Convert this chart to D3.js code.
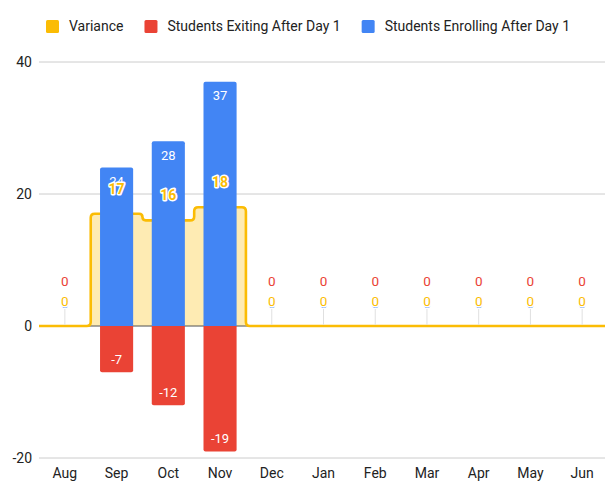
<!DOCTYPE html>
<html>
<head>
<meta charset="utf-8">
<script src="https://cdn.jsdelivr.net/npm/d3@7"></script>
<style>
  html, body { margin: 0; padding: 0; background: #fff; }
  svg { display: block; font-family: Roboto, Arial, sans-serif; }
</style>
</head>
<body>
<svg id="chart" width="605" height="482"></svg>
<script>
const months = ["Aug","Sep","Oct","Nov","Dec","Jan","Feb","Mar","Apr","May","Jun"];
const variance = [0,17,16,18,0,0,0,0,0,0,0];
const exiting = [0,-7,-12,-19,0,0,0,0,0,0,0];
const enrolling = [0,24,28,37,0,0,0,0,0,0,0];
const yTicks = [-20,0,20,40];
const seriesNames = ["Variance","Students Exiting After Day 1","Students Enrolling After Day 1"];
const seriesColors = ["#fbbc04","#ea4335","#4285f4"];

const W = 605, H = 482;
const svg = d3.select("#chart");

const x = d3.scaleBand().domain(months).range([39, 608]).paddingInner(0).paddingOuter(0);
const y = d3.scaleLinear().domain([-20, 40]).range([458, 62]);
const barW = x.bandwidth() * 0.64;
const cx = m => x(m) + x.bandwidth() / 2;

// gridlines
svg.append("g").selectAll("line").data(yTicks).join("line")
  .attr("x1", 39).attr("x2", W)
  .attr("y1", d => y(d)).attr("y2", d => y(d))
  .attr("stroke", "#cccccc").attr("stroke-width", 1);

// y axis labels
svg.append("g").selectAll("text").data(yTicks).join("text")
  .attr("x", 32).attr("y", d => y(d)).attr("dy", "0.35em")
  .attr("text-anchor", "end").attr("font-size", 14).attr("fill", "#222")
  .text(d => d);

// x axis labels
svg.append("g").selectAll("text").data(months).join("text")
  .attr("x", d => cx(d)).attr("y", 473).attr("dy", "0.35em")
  .attr("text-anchor", "middle").attr("font-size", 14).attr("fill", "#222")
  .text(d => d);

// stepped variance path with rounded corners
function stepPoints() {
  const pts = [];
  months.forEach((m, i) => {
    const yy = y(variance[i]);
    pts.push([x(m), yy]);
    pts.push([x(m) + x.bandwidth(), yy]);
  });
  const clean = [];
  pts.forEach(p => {
    const last = clean[clean.length - 1];
    if (last && Math.abs(last[0] - p[0]) < 1e-6 && Math.abs(last[1] - p[1]) < 1e-6) return;
    clean.push(p);
  });
  const out = [];
  clean.forEach(p => {
    if (out.length >= 2) {
      const a = out[out.length - 2], b = out[out.length - 1];
      const c1 = (b[0]-a[0])*(p[1]-b[1]) - (b[1]-a[1])*(p[0]-b[0]);
      if (Math.abs(c1) < 1e-6) { out[out.length - 1] = p; return; }
    }
    out.push(p);
  });
  return out;
}
function roundedPath(pts, r) {
  const p = d3.path();
  p.moveTo(pts[0][0], pts[0][1]);
  for (let i = 1; i < pts.length - 1; i++) {
    const a = pts[i-1], b = pts[i], c = pts[i+1];
    const l1 = Math.hypot(b[0]-a[0], b[1]-a[1]);
    const l2 = Math.hypot(c[0]-b[0], c[1]-b[1]);
    const rr = Math.min(r, l1/2, l2/2);
    const p1 = [b[0] - (b[0]-a[0])/l1*rr, b[1] - (b[1]-a[1])/l1*rr];
    const p2 = [b[0] + (c[0]-b[0])/l2*rr, b[1] + (c[1]-b[1])/l2*rr];
    p.lineTo(p1[0], p1[1]);
    p.quadraticCurveTo(b[0], b[1], p2[0], p2[1]);
  }
  const last = pts[pts.length-1];
  p.lineTo(last[0], last[1]);
  return p.toString();
}
const sp = stepPoints();
const linePath = roundedPath(sp, 4);
svg.append("path")
  .attr("d", linePath + `L${sp[sp.length-1][0]},${y(0)}L${sp[0][0]},${y(0)}Z`)
  .attr("fill", "#fbbc04").attr("fill-opacity", 0.3).attr("stroke", "none");
// baseline
svg.append("line").attr("x1", 39).attr("x2", W).attr("y1", y(0)).attr("y2", y(0))
  .attr("stroke", "#666").attr("stroke-width", 1);
svg.append("path").attr("d", linePath)
  .attr("fill", "none").attr("stroke", "#fbbc04").attr("stroke-width", 2.6)
  .attr("stroke-linejoin", "round");

// bars with rounded far end
function barPath(m, v) {
  const x0 = cx(m) - barW/2, x1 = cx(m) + barW/2;
  const y0 = y(0), y1 = y(v);
  const r = Math.min(2, Math.abs(y1 - y0));
  const p = d3.path();
  if (v > 0) {
    p.moveTo(x0, y0); p.lineTo(x0, y1 + r);
    p.quadraticCurveTo(x0, y1, x0 + r, y1);
    p.lineTo(x1 - r, y1); p.quadraticCurveTo(x1, y1, x1, y1 + r);
    p.lineTo(x1, y0); p.closePath();
  } else {
    p.moveTo(x0, y0); p.lineTo(x0, y1 - r);
    p.quadraticCurveTo(x0, y1, x0 + r, y1);
    p.lineTo(x1 - r, y1); p.quadraticCurveTo(x1, y1, x1, y1 - r);
    p.lineTo(x1, y0); p.closePath();
  }
  return p.toString();
}
const enrData = months.map((m, i) => ({m, v: enrolling[i]}));
const exData = months.map((m, i) => ({m, v: exiting[i]}));
const varData = months.map((m, i) => ({m, v: variance[i]}));

svg.append("g").selectAll("path").data(enrData.filter(d => d.v !== 0)).join("path")
  .attr("d", d => barPath(d.m, d.v)).attr("fill", seriesColors[2]);
svg.append("g").selectAll("path").data(exData.filter(d => d.v !== 0)).join("path")
  .attr("d", d => barPath(d.m, d.v)).attr("fill", seriesColors[1]);

// stems for zero-valued bars
svg.append("g").selectAll("line").data(enrData.filter(d => d.v === 0)).join("line")
  .attr("x1", d => cx(d.m)).attr("x2", d => cx(d.m))
  .attr("y1", y(0) - 1).attr("y2", y(0) - 17)
  .attr("stroke", "#e0e0e0").attr("stroke-width", 1);

// labels
const lab = svg.append("g").attr("font-size", 13);
lab.selectAll("text.enr").data(enrData.filter(d => d.v !== 0)).join("text")
  .attr("class", "enr").attr("x", d => cx(d.m)).attr("y", d => y(d.v) + 14).attr("dy", "0.35em")
  .attr("text-anchor", "middle").attr("fill", "#fff").text(d => d.v);
lab.selectAll("text.ex").data(exData.filter(d => d.v !== 0)).join("text")
  .attr("class", "ex").attr("x", d => cx(d.m)).attr("y", d => y(d.v) - 13).attr("dy", "0.35em")
  .attr("text-anchor", "middle").attr("fill", "#fff").text(d => d.v);
lab.selectAll("text.enr0").data(enrData.filter(d => d.v === 0)).join("text")
  .attr("class", "enr0").attr("x", d => cx(d.m)).attr("y", y(0) - 23).attr("dy", "0.35em")
  .attr("font-size", 13.5)
  .attr("text-anchor", "middle").attr("fill", seriesColors[2]).text(d => d.v);
lab.selectAll("text.ex0").data(exData.filter(d => d.v === 0)).join("text")
  .attr("class", "ex0").attr("x", d => cx(d.m)).attr("y", y(0) - 45).attr("dy", "0.35em")
  .attr("font-size", 13.5)
  .attr("text-anchor", "middle").attr("fill", seriesColors[1]).text(d => d.v);
lab.selectAll("text.var").data(varData).join("text")
  .attr("class", "var").attr("x", d => cx(d.m)).attr("y", d => y(d.v) - 25).attr("dy", "0.35em")
  .attr("text-anchor", "middle").attr("fill", seriesColors[0])
  .attr("font-weight", d => d.v !== 0 ? "bold" : "normal")
  .attr("font-size", d => d.v !== 0 ? 14 : 13.5)
  .attr("stroke", "#fff").attr("stroke-width", 3).attr("paint-order", "stroke")
  .attr("stroke-linejoin", "round")
  .text(d => d.v);

// legend
const leg = svg.append("g").attr("font-size", 14);
let lx = 46;
seriesNames.forEach((name, i) => {
  leg.append("rect").attr("x", lx).attr("y", 20).attr("width", 13).attr("height", 13)
    .attr("rx", 1.5).attr("fill", seriesColors[i]);
  const t = leg.append("text").attr("x", lx + 23).attr("y", 26.5).attr("dy", "0.35em")
    .attr("fill", "#222").text(name);
  lx = lx + 23 + t.node().getComputedTextLength() + 21;
});
</script>
</body>
</html>
